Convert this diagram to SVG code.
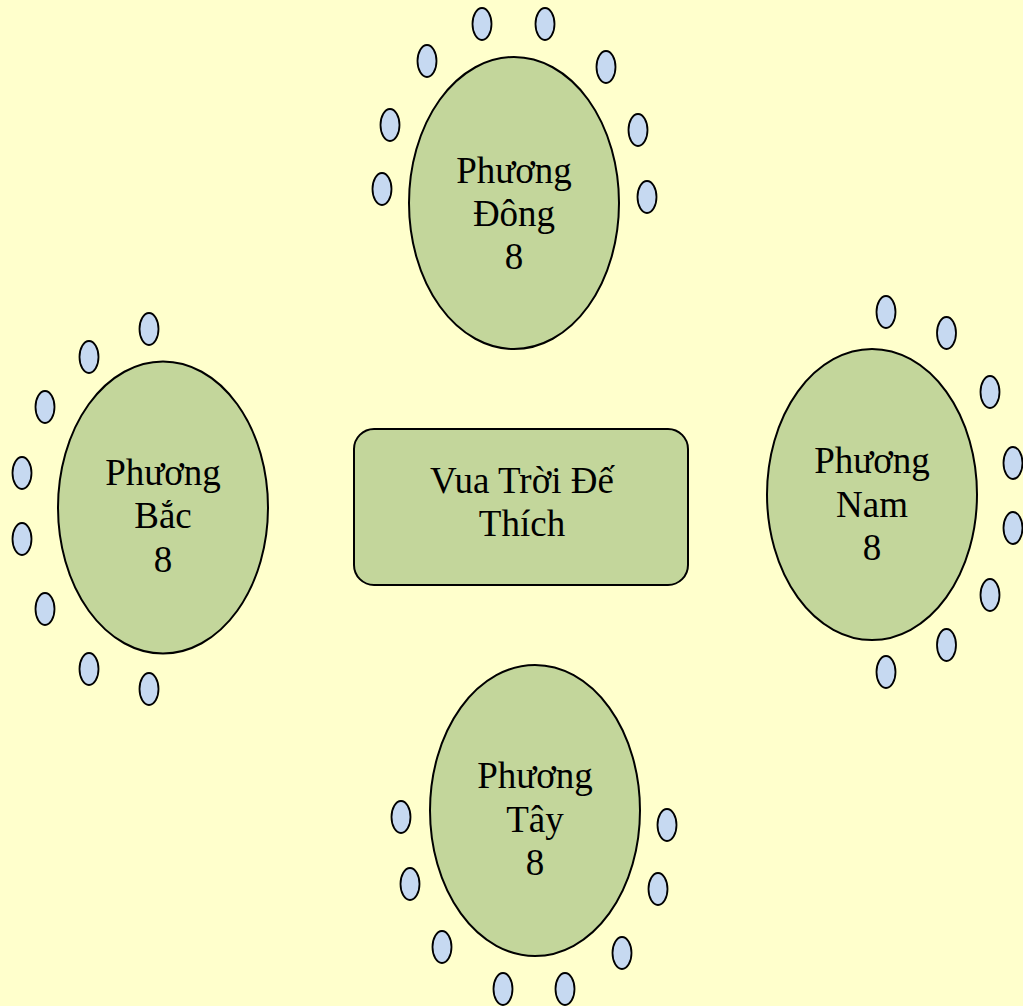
<svg xmlns="http://www.w3.org/2000/svg" width="1023" height="1006" viewBox="0 0 1023 1006">
<style>
.bg{fill:#FFFFCC}
.big{fill:#C3D69B;stroke:#000;stroke-width:2}
.seat{fill:#C6D9F1;stroke:#000;stroke-width:1.8}
.t{font-family:"Liberation Serif","Times New Roman",serif;font-size:37px;fill:#000;text-anchor:middle}
</style>
<rect class="bg" x="0" y="0" width="1023" height="1006"/>
<g id="connectors"/>
<g id="center">
<rect class="big" x="354" y="429" width="334" height="156" rx="20" ry="20"/>
<text class="t" x="522" y="493">Vua Trời Đế</text>
<text class="t" x="522" y="536">Thích</text>
</g>
<g id="dong">
<ellipse class="big" cx="514" cy="203" rx="105" ry="146"/>
<text class="t" x="514" y="183">Phương</text>
<text class="t" x="514" y="226">Đông</text>
<text class="t" x="514" y="269">8</text>
<g class="seats">
<ellipse class="seat" cx="482" cy="24" rx="9.5" ry="16"/>
<ellipse class="seat" cx="545" cy="24" rx="9.5" ry="16"/>
<ellipse class="seat" cx="427" cy="61" rx="9.5" ry="16"/>
<ellipse class="seat" cx="606" cy="67" rx="9.5" ry="16"/>
<ellipse class="seat" cx="390" cy="125" rx="9.5" ry="16"/>
<ellipse class="seat" cx="638" cy="130" rx="9.5" ry="16"/>
<ellipse class="seat" cx="382" cy="189" rx="9.5" ry="16"/>
<ellipse class="seat" cx="647" cy="197" rx="9.5" ry="16"/>
</g>
</g>
<g id="bac">
<ellipse class="big" cx="163" cy="507.5" rx="105" ry="146"/>
<text class="t" x="163" y="485">Phương</text>
<text class="t" x="163" y="528">Bắc</text>
<text class="t" x="163" y="572">8</text>
<g class="seats">
<ellipse class="seat" cx="149" cy="329" rx="9.5" ry="16"/>
<ellipse class="seat" cx="89" cy="357" rx="9.5" ry="16"/>
<ellipse class="seat" cx="45" cy="407" rx="9.5" ry="16"/>
<ellipse class="seat" cx="22" cy="473" rx="9.5" ry="16"/>
<ellipse class="seat" cx="22" cy="539" rx="9.5" ry="16"/>
<ellipse class="seat" cx="45" cy="609" rx="9.5" ry="16"/>
<ellipse class="seat" cx="89" cy="669" rx="9.5" ry="16"/>
<ellipse class="seat" cx="149" cy="689" rx="9.5" ry="16"/>
</g>
</g>
<g id="nam">
<ellipse class="big" cx="872" cy="494.5" rx="105" ry="145.5"/>
<text class="t" x="872" y="473">Phương</text>
<text class="t" x="872" y="517">Nam</text>
<text class="t" x="872" y="560">8</text>
<g class="seats">
<ellipse class="seat" cx="886" cy="312" rx="9.5" ry="16"/>
<ellipse class="seat" cx="946.5" cy="333" rx="9.5" ry="16"/>
<ellipse class="seat" cx="990" cy="392" rx="9.5" ry="16"/>
<ellipse class="seat" cx="1013" cy="463" rx="9.5" ry="16"/>
<ellipse class="seat" cx="1013" cy="528" rx="9.5" ry="16"/>
<ellipse class="seat" cx="990" cy="595" rx="9.5" ry="16"/>
<ellipse class="seat" cx="946.5" cy="645" rx="9.5" ry="16"/>
<ellipse class="seat" cx="886" cy="672" rx="9.5" ry="16"/>
</g>
</g>
<g id="tay">
<ellipse class="big" cx="535" cy="810.5" rx="105" ry="145.5"/>
<text class="t" x="535" y="788">Phương</text>
<text class="t" x="535" y="832">Tây</text>
<text class="t" x="535" y="875">8</text>
<g class="seats">
<ellipse class="seat" cx="401" cy="817" rx="9.5" ry="16"/>
<ellipse class="seat" cx="410" cy="884" rx="9.5" ry="16"/>
<ellipse class="seat" cx="442" cy="947" rx="9.5" ry="16"/>
<ellipse class="seat" cx="503" cy="989" rx="9.5" ry="16"/>
<ellipse class="seat" cx="565" cy="989" rx="9.5" ry="16"/>
<ellipse class="seat" cx="622" cy="953" rx="9.5" ry="16"/>
<ellipse class="seat" cx="658" cy="889" rx="9.5" ry="16"/>
<ellipse class="seat" cx="667" cy="825" rx="9.5" ry="16"/>
</g>
</g>
</svg>
